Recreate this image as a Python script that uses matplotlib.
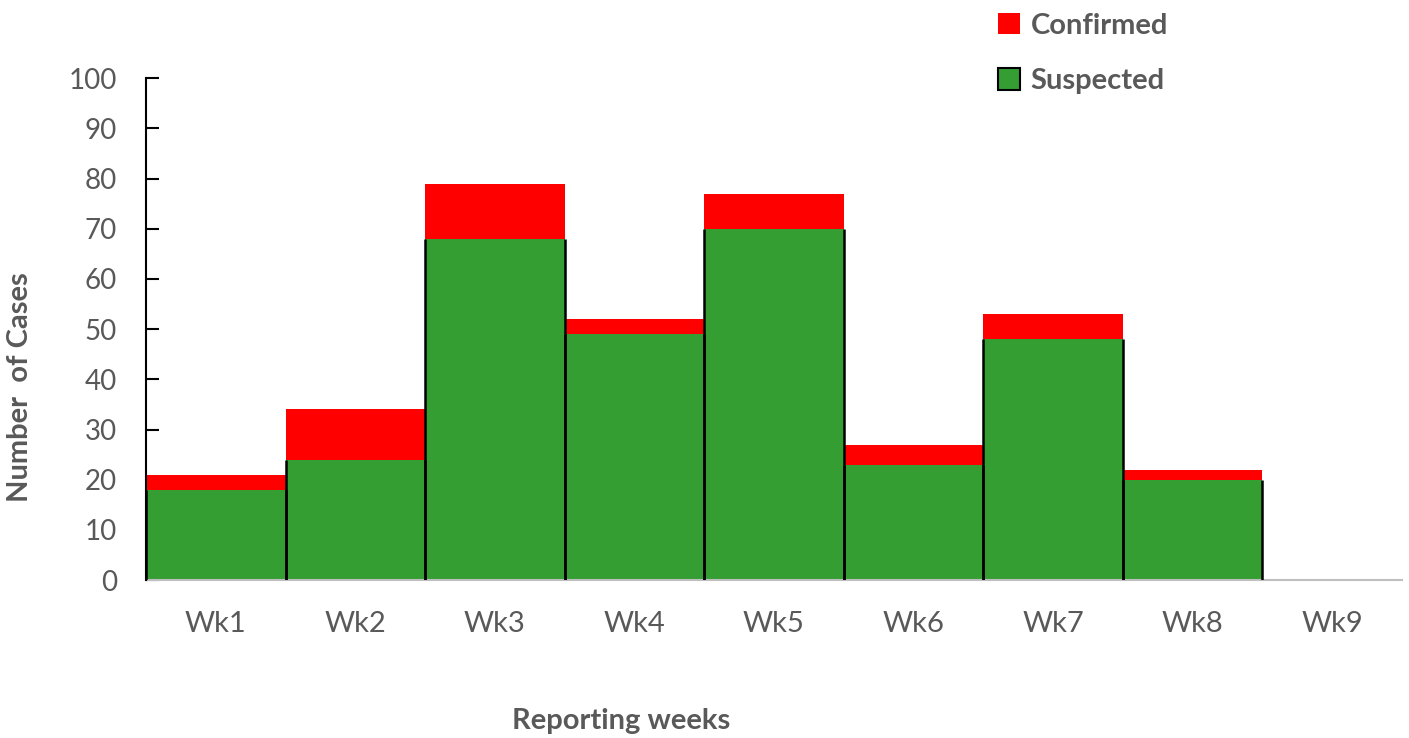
import matplotlib.pyplot as plt
from matplotlib.patches import Patch

plt.rcParams['font.family'] = ['Lato', 'DejaVu Sans']

# data
weeks = ['Wk1', 'Wk2', 'Wk3', 'Wk4', 'Wk5', 'Wk6', 'Wk7', 'Wk8', 'Wk9']
suspected = [18, 24, 68, 49, 70, 23, 48, 20, 0]
confirmed = [3, 10, 11, 3, 7, 4, 5, 2, 0]

green = '#349E33'
red = '#FF0000'
grey = '#595959'

fig = plt.figure(figsize=(14.09, 7.38), dpi=100)
ax = fig.add_axes([0.1036, 0.214, 0.8914, 0.680])

x = list(range(len(weeks)))
for i in x:
    if suspected[i] + confirmed[i] == 0:
        continue
    ax.bar(i, suspected[i], width=1.0, color=green, edgecolor='none', zorder=2)
    ax.bar(i, confirmed[i], bottom=suspected[i], width=1.0, color=red, edgecolor='none', zorder=3)
    # black side edges of the green part only
    ax.vlines([i - 0.5, i + 0.5], 0, suspected[i], colors='black', linewidth=1.8, zorder=4)

ax.set_xlim(-0.5, 8.5)
ax.set_ylim(0, 100)
ax.set_yticks(range(0, 101, 10))
ax.set_xticks(x)
ax.set_xticklabels(weeks)

for s in ['top', 'right']:
    ax.spines[s].set_visible(False)
ax.spines['left'].set_color('black')
ax.spines['left'].set_linewidth(1.5)
ax.spines['left'].set_zorder(5)
ax.spines['bottom'].set_color('#BFBFBF')
ax.spines['bottom'].set_linewidth(1.5)

ax.tick_params(axis='y', direction='in', length=9, width=1.5, colors='black',
               labelcolor=grey, labelsize=20, pad=21)
ax.tick_params(axis='x', length=0, labelcolor=grey, labelsize=21, pad=22)

ax.set_ylabel('Number  of Cases', fontsize=21, fontweight='bold', color=grey)
ax.yaxis.set_label_coords(-0.090, 0.385)
fig.text(0.441, 0.012, 'Reporting weeks', fontsize=21, fontweight='bold', color=grey, ha='center')

handles = [Patch(facecolor=red, edgecolor='none', label='Confirmed'),
           Patch(facecolor=green, edgecolor='black', linewidth=1.5, label='Suspected')]
leg = fig.legend(handles=handles, loc='upper left', bbox_to_anchor=(0.690, 1.018),
                 frameon=False, fontsize=21, labelspacing=1.0, handlelength=0.75,
                 handleheight=0.75, handletextpad=0.35)
for t in leg.get_texts():
    t.set_color(grey)
    t.set_fontweight('bold')

fig.savefig('out.png', dpi=100)
